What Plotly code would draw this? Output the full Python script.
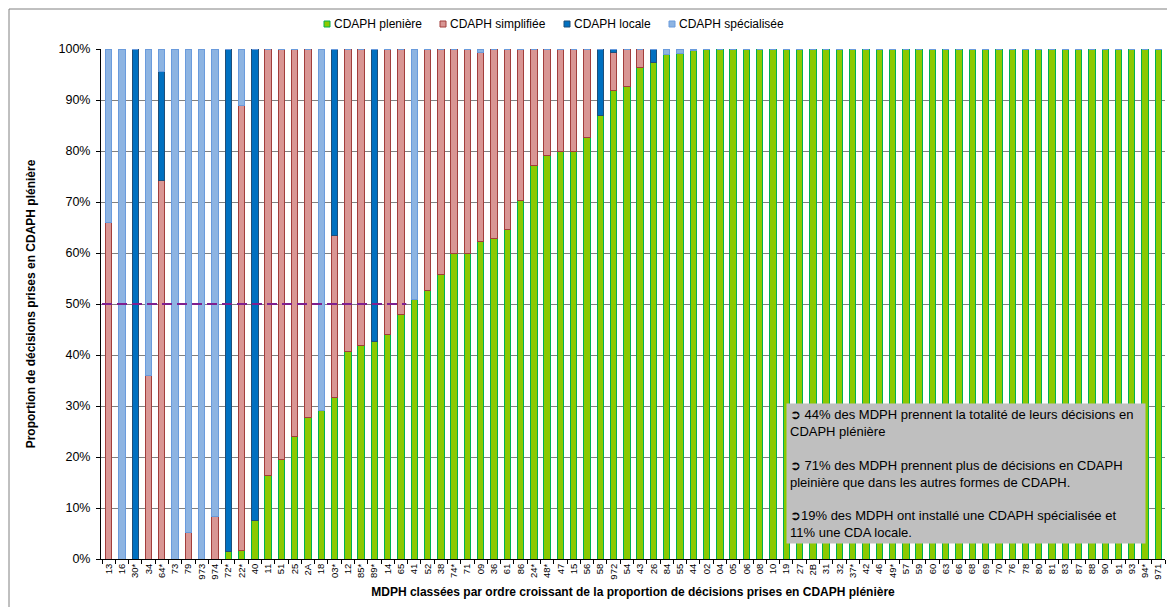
import plotly.graph_objects as go

categories = ["13", "16", "30*", "34", "64*", "73", "79", "973", "974", "72*",
              "22*", "40", "11", "51", "25", "2A", "18", "03*", "12", "85*",
              "89*", "14", "65", "41", "52", "38", "74*", "71", "09", "36",
              "61", "86", "24*", "48*", "47", "15", "56", "58", "972", "54",
              "43", "26", "84", "55", "44", "02", "04", "05", "06", "08",
              "10", "19", "27", "2B", "31", "32", "37*", "42", "46", "49*",
              "57", "59", "60", "63", "66", "68", "69", "70", "76", "78",
              "80", "81", "83", "87", "88", "90", "91", "93", "94*", "971"]

pleniere = [0, 0, 0, 0, 0, 0, 0, 0, 0, 1.5,
            1.6, 7.6, 16.3, 19.5, 24.1, 27.8, 29.1, 31.7, 40.7, 41.8,
            42.6, 44.1, 48.0, 50.8, 52.6, 55.7, 60.0, 60.0, 62.2, 62.9,
            64.7, 70.3, 77.1, 79.1, 79.9, 79.9, 82.7, 86.9, 91.8, 92.6,
            96.4, 97.4, 99.0, 99.2, 99.8, 100, 100, 100, 100, 100,
            100, 100, 100, 100, 100, 100, 100, 100, 100, 100,
            100, 100, 100, 100, 100, 100, 100, 100, 100, 100,
            100, 100, 100, 100, 100, 100, 100, 100, 100, 100]

simplifiee = [66.0, 0, 0, 36.0, 74.3, 0, 5.2, 0, 8.4, 0,
              87.3, 0, 83.7, 80.5, 75.9, 72.2, 0, 31.7, 59.3, 58.2,
              0, 55.9, 52.0, 0, 47.4, 44.3, 40.0, 40.0, 37.2, 37.1,
              35.3, 29.7, 22.9, 20.9, 20.1, 20.1, 17.3, 0, 7.6, 7.4,
              3.6, 0, 0, 0, 0, 0, 0, 0, 0, 0,
              0, 0, 0, 0, 0, 0, 0, 0, 0, 0,
              0, 0, 0, 0, 0, 0, 0, 0, 0, 0,
              0, 0, 0, 0, 0, 0, 0, 0, 0, 0]

locale = [0, 0, 100, 0, 21.3, 0, 0, 0, 0, 98.5,
          0, 92.4, 0, 0, 0, 0, 0, 36.6, 0, 0,
          57.4, 0, 0, 0, 0, 0, 0, 0, 0, 0,
          0, 0, 0, 0, 0, 0, 0, 13.1, 0.6, 0,
          0, 2.6, 0, 0, 0, 0, 0, 0, 0, 0,
          0, 0, 0, 0, 0, 0, 0, 0, 0, 0,
          0, 0, 0, 0, 0, 0, 0, 0, 0, 0,
          0, 0, 0, 0, 0, 0, 0, 0, 0, 0]

specialisee = [34.0, 100, 0, 64.0, 4.4, 100, 94.8, 100, 91.6, 0,
               11.1, 0, 0, 0, 0, 0, 70.9, 0, 0, 0,
               0, 0, 0, 49.2, 0, 0, 0, 0, 0.6, 0,
               0, 0, 0, 0, 0, 0, 0, 0, 0, 0,
               0, 0, 1.0, 0.8, 0.2, 0, 0, 0, 0, 0,
               0, 0, 0, 0, 0, 0, 0, 0, 0, 0,
               0, 0, 0, 0, 0, 0, 0, 0, 0, 0,
               0, 0, 0, 0, 0, 0, 0, 0, 0, 0]

series_names = ["CDAPH plenière", "CDAPH simplifiée", "CDAPH locale", "CDAPH spécialisée"]
threshold = 50

FONT = "Arial, Liberation Sans, sans-serif"

fills = ["#8CC900", "#D99694", "#0070C0", "#8DB4E2"]
borders = ["#00B050", "#A23E3C", "#1F4E79", "#6A9BDC"]

W, H = 1175, 607
L, R, T, B = 93, 18, 41, 56
PW, PH = W - L - R, H - T - B


def px(x):
    return (x - L) / PW


def py(y):
    return (H - B - y) / PH


fig = go.Figure()
for name, vals, fc, bc in zip(series_names, [pleniere, simplifiee, locale, specialisee], fills, borders):
    fig.add_trace(go.Bar(
        x=categories, y=vals, name=name, showlegend=False,
        marker=dict(color=fc, line=dict(color=bc, width=1)),
    ))

fig.add_shape(type="line", xref="x", yref="y", x0=-0.5, x1=22.4, y0=threshold, y1=threshold,
              line=dict(color="#7F1F8F", width=2, dash="10px,5px"), layer="above")

# outer frame
fig.add_shape(type="rect", xref="paper", yref="paper",
              x0=px(1), x1=px(1173), y0=py(605), y1=py(1),
              line=dict(color="#808080", width=1), fillcolor="rgba(0,0,0,0)")

# custom legend (Excel style: small squares right next to labels)
legend_sq_x = [316, 432, 556, 661]
for name, fc, bc, sx in zip(series_names, fills, borders, legend_sq_x):
    fig.add_shape(type="rect", xref="paper", yref="paper",
                  x0=px(sx), x1=px(sx + 6), y0=py(19), y1=py(13),
                  line=dict(color=bc, width=1), fillcolor=fc)
    fig.add_annotation(xref="paper", yref="paper", x=px(sx + 8), y=py(16),
                       xanchor="left", yanchor="middle", text=name, showarrow=False,
                       font=dict(family=FONT, size=12, color="#000000"))

note = ("➲ 44% des MDPH prennent la totalité de leurs décisions en<br>CDAPH plénière<br><br>"
        "➲ 71% des MDPH prennent plus de décisions en CDAPH<br>pleinière que dans les autres formes de CDAPH.<br><br>"
        "➲19% des MDPH ont installé une CDAPH spécialisée et<br>11% une CDA locale.")
fig.add_annotation(xref="paper", yref="paper", x=px(778), y=py(395), xanchor="left", yanchor="top",
                   text=note, showarrow=False, align="left", valign="top",
                   bgcolor="#BFBFBF", width=352, borderpad=3,
                   font=dict(family=FONT, size=13, color="#000000"))

fig.update_layout(
    width=W, height=H,
    margin=dict(l=L, r=R, t=T, b=B, autoexpand=False),
    barmode="stack", bargap=0.52,
    plot_bgcolor="white", paper_bgcolor="white",
    font=dict(family=FONT, size=11, color="#000000"),
    showlegend=False,
    xaxis=dict(type="category", tickangle=-90, tickfont=dict(size=9.5),
               showline=True, linecolor="#000000", linewidth=1,
               ticks="outside", ticklen=4, tickcolor="#000000", tickson="boundaries",
               showgrid=False, automargin=False,
               title=dict(text="<b>MDPH classées par ordre croissant de la proportion de décisions prises en CDAPH plénière</b>",
                          font=dict(size=12), standoff=8)),
    yaxis=dict(range=[0, 100], dtick=10, ticksuffix="%", tickfont=dict(size=12.5),
               showline=True, linecolor="#000000", linewidth=1,
               ticks="outside", ticklen=4, tickcolor="#000000", ticklabelstandoff=3,
               showgrid=True, gridcolor="#808080", gridwidth=1.3,
               zeroline=False, automargin=False,
               title=dict(text="<b>Proportion de décisions prises en CDAPH plénière</b>",
                          font=dict(size=12), standoff=20)),
)

fig.write_html("out.html")
